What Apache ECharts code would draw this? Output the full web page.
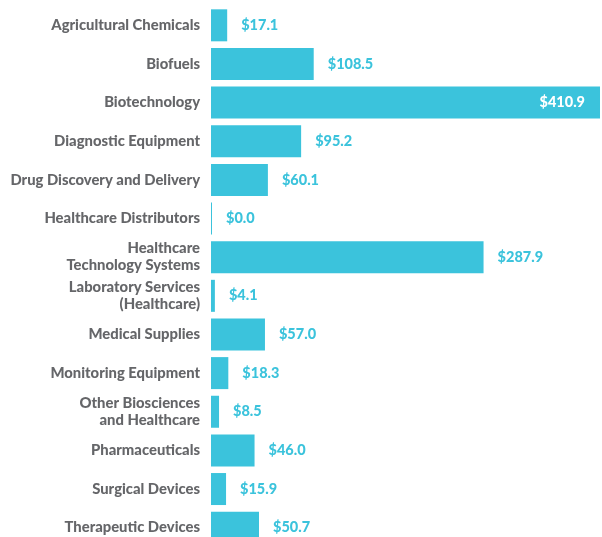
<!DOCTYPE html>
<html><head><meta charset="utf-8">
<script src="https://cdn.jsdelivr.net/npm/echarts@6/dist/echarts.min.js"></script>
<style>html,body{margin:0;padding:0;background:#fff;overflow:hidden}#c{width:602px;height:547px}</style>
</head><body><div id="c"></div>
<script>
const categories = ["Agricultural Chemicals","Biofuels","Biotechnology","Diagnostic Equipment","Drug Discovery and Delivery","Healthcare Distributors","Healthcare\nTechnology Systems","Laboratory Services\n(Healthcare)","Medical Supplies","Monitoring Equipment","Other Biosciences\nand Healthcare","Pharmaceuticals","Surgical Devices","Therapeutic Devices"];
const values = [17.1,108.5,410.9,95.2,60.1,0.0,287.9,4.1,57.0,18.3,8.5,46.0,15.9,50.7];
const insideIdx = [2];

const teal = '#3bc3dc';
const chart = echarts.init(document.getElementById('c'), null, {renderer:'canvas'});
chart.setOption({
  animation:false,
  grid:{left:211,right:2,top:6,bottom:0,containLabel:false},
  xAxis:{type:'value',min:0,max:410.9,show:false},
  yAxis:{type:'category',data:categories,inverse:true,
    axisLine:{show:false},axisTick:{show:false},
    axisLabel:{margin:11,color:'#656669',fontFamily:'Lato',fontWeight:900,fontSize:14.8,lineHeight:17,align:'right'}},
  series:[{type:'bar',barWidth:32,barMinHeight:1,
    data:values.map((v,i)=>({value:v,
      label: insideIdx.includes(i)?{position:'insideRight',color:'#fff',distance:15}:{position:'right'}})),
    itemStyle:{color:teal},
    label:{show:true,position:'right',distance:14,color:teal,fontFamily:'Lato',fontWeight:900,fontSize:14.5,
      formatter:p=>'$'+p.value.toFixed(1)}}]
});
</script></body></html>
